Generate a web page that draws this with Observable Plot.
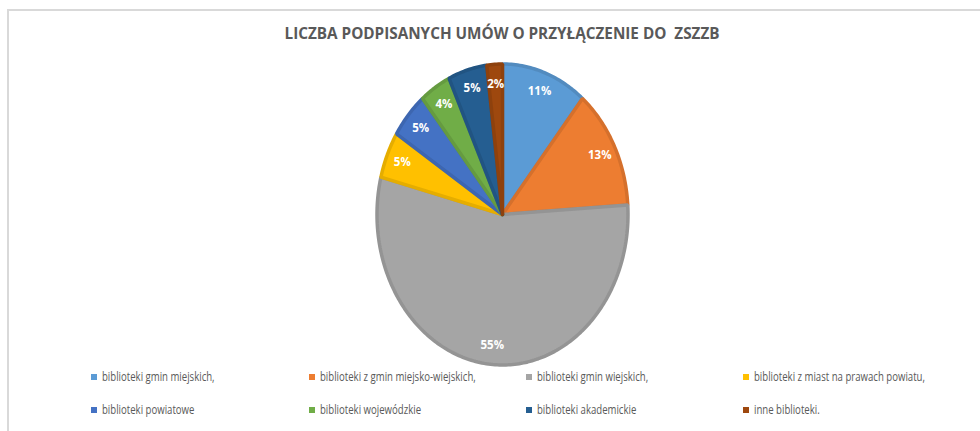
<!DOCTYPE html>
<html>
<head>
<meta charset="utf-8">
<script src="https://cdn.jsdelivr.net/npm/d3@7"></script>
<script src="https://cdn.jsdelivr.net/npm/@observablehq/plot@0.6"></script>
<style>
  html, body { margin: 0; padding: 0; background: #fff; }
  #wrap { position: relative; width: 980px; height: 431px; overflow: hidden; font-family: "Open Sans", "DejaVu Sans", sans-serif; }
  #frame { position: absolute; left: 7px; top: 9px; right: -4px; bottom: -4px; border-top: 2px solid #d9d9d9; border-left: 2px solid #d9d9d9; }
  #title { position: absolute; top: 22px; left: 502px; white-space: pre; font-weight: 700; font-size: 16px; line-height: 22px; color: #595959; transform-origin: 0 50%; }
  #chart { position: absolute; left: 0; top: 56px; }
  .leg { position: absolute; display: flex; align-items: center; white-space: pre; font-size: 12px; color: #595959; line-height: 16px; }
  .leg .sw { width: 6px; height: 6px; margin-right: 5px; flex: none; }
  .leg .tx { display: inline-block; transform-origin: 0 50%; }
</style>
</head>
<body>
<div id="wrap">
  <div id="frame"></div>
  <div id="title"></div>
  <div id="chart"></div>
</div>
<script>
const title = "LICZBA PODPISANYCH UMÓW O PRZYŁĄCZENIE DO  ZSZZB";
const categories = [
  "biblioteki gmin miejskich,",
  "biblioteki z gmin miejsko-wiejskich,",
  "biblioteki gmin wiejskich,",
  "biblioteki z miast na prawach powiatu,",
  "biblioteki powiatowe",
  "biblioteki wojewódzkie",
  "biblioteki akademickie",
  "inne biblioteki."
];
const values = [11, 13, 55, 5, 5, 4, 5, 2];
const labels = ["11%", "13%", "55%", "5%", "5%", "4%", "5%", "2%"];
const colors = ["#5B9BD5", "#ED7D31", "#A5A5A5", "#FFC000", "#4472C4", "#70AD47", "#255E91", "#9E480E"];

// pie geometry from data
const arcs = d3.pie().sort(null).value(d => d)(values);
const slices = arcs.map((a, i) => {
  const pts = [{x: 0, y: 0}];
  const n = Math.max(2, Math.ceil((a.endAngle - a.startAngle) / (Math.PI / 180)));
  for (let k = 0; k <= n; k++) {
    const t = a.startAngle + (a.endAngle - a.startAngle) * k / n;
    pts.push({x: Math.sin(t), y: Math.cos(t)});
  }
  pts.push({x: 0, y: 0});
  const mid = (a.startAngle + a.endAngle) / 2;
  return {
    cat: categories[i], color: colors[i], border: d3.color(colors[i]).darker(0.3).formatHex(),
    pts, label: labels[i], lx: 0.87 * Math.sin(mid), ly: 0.87 * Math.cos(mid)
  };
});

const cx = 502, cy = 158, rx = 125.5, ry = 150.5;
const chart = Plot.plot({
  width: 980,
  height: 316,
  margin: 0,
  x: {domain: [-1, 1], range: [cx - rx, cx + rx], axis: null},
  y: {domain: [-1, 1], range: [cy + ry, cy - ry], axis: null},
  marks: [
    ...slices.map(s => Plot.line(s.pts, {x: "x", y: "y", fill: s.color, stroke: s.border, strokeWidth: 3.5, strokeLinejoin: "miter"})),
    Plot.text(slices, {x: "lx", y: "ly", text: "label", fill: "white", fontWeight: "bold", fontSize: 11.5, fontFamily: "Open Sans, sans-serif"})
  ]
});
document.getElementById("chart").appendChild(chart);

// title
const t = document.getElementById("title");
t.textContent = title;
const tw = t.getBoundingClientRect().width;
const tscale = 435 / tw;
t.style.transform = `translateX(${-435 / 2}px) scaleX(${tscale})`;

// legend
const colLeft = [91, 309, 526, 743];
const rowTop = [369, 402];
const wrap = document.getElementById("wrap");
categories.forEach((c, i) => {
  const d = document.createElement("div");
  d.className = "leg";
  d.style.left = colLeft[i % 4] + "px";
  d.style.top = rowTop[Math.floor(i / 4)] + "px";
  const sw = document.createElement("span");
  sw.className = "sw";
  sw.style.background = colors[i];
  const tx = document.createElement("span");
  tx.className = "tx";
  tx.textContent = c;
  tx.style.transform = "scaleX(0.8)";
  d.appendChild(sw); d.appendChild(tx);
  wrap.appendChild(d);
});
</script>
</body>
</html>
